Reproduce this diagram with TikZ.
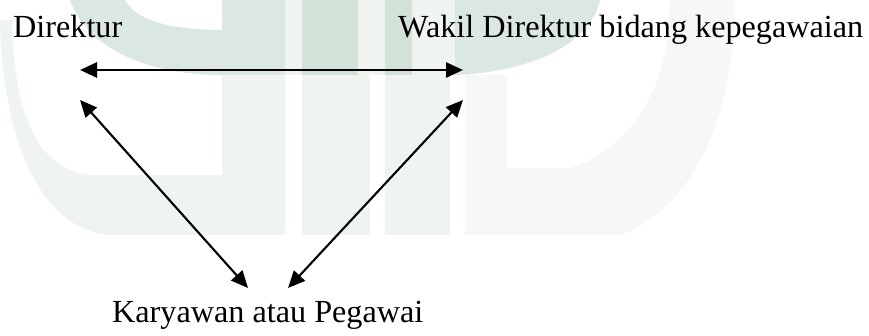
\documentclass[tikz,border=0pt]{standalone}
\usepackage{fontspec}
\setmainfont{Liberation Serif}
\usetikzlibrary{arrows.meta}

\definecolor{wmdark}{RGB}{210,226,217}
\definecolor{wmmid}{RGB}{219,232,225}
\definecolor{wmlight}{RGB}{239,244,241}
\definecolor{wmfaint}{RGB}{245,248,246}

\tikzset{
  lbl/.style={inner sep=0pt, anchor=base west, font=\fontsize{32.2}{38}\selectfont},
  link/.style={{Triangle[length=17pt,width=15pt]}-{Triangle[length=17pt,width=15pt]}, line width=2.1pt},
  thicklink/.style={link, line width=2.8pt},
}

\begin{document}
\begin{tikzpicture}[x=1pt, y=-1pt]
\useasboundingbox (0,0) rectangle (869,335);
\fill[white] (0,0) rectangle (869,335);

% --- faint logo in the background ---
% outer light ring on the left
\fill[wmlight] (0,20) .. controls (3,150) and (45,230) .. (110,235) -- (222,235)
  -- (222,175) -- (90,175) .. controls (40,170) and (14,120) .. (12,20) -- cycle;
% inner dark arc on the left
\fill[wmmid] (70,0) .. controls (88,50) and (150,75) .. (222,75)
  -- (222,30) .. controls (170,30) and (135,20) .. (125,0) -- cycle;
% vertical bars
\fill[wmlight] (222,75) rectangle (285,235);
\fill[wmlight] (302,75) rectangle (370,235);
\fill[wmlight] (385,75) rectangle (450,235);
\fill[wmfaint] (465,75) rectangle (507,235);
\fill[wmlight] (285,0) rectangle (302,75);
\fill[wmlight] (358,0) rectangle (385,75);
\fill[wmlight] (412,0) rectangle (455,75);
\fill[wmmid] (222,0) rectangle (285,75);
\fill[wmdark] (302,0) rectangle (358,75);
\fill[wmdark] (385,0) rectangle (412,75);
% dark arc on the right
\fill[wmmid] (455,0) -- (600,0) .. controls (590,45) and (530,72) .. (455,75) -- cycle;
% outer light ring on the right
\fill[wmfaint] (670,0) -- (735,0) .. controls (735,120) and (690,210) .. (620,235)
  -- (507,235) -- (507,168) -- (570,168) .. controls (630,150) and (670,90) .. (670,0) -- cycle;

% --- labels ---
\node[lbl] (dir) at (13,37) {Direktur};
\node[lbl] (wakil) at (398,37) {Wakil Direktur bidang kepegawaian};
\node[lbl] (kar) at (112,322) {Karyawan atau Pegawai};

% --- arrow ends ---
\coordinate (dirE) at (80,70);
\coordinate (wakilE) at (463,70);
\coordinate (dirS) at (80,100);
\coordinate (wakilS) at (463,100);
\coordinate (karL) at (248,288);
\coordinate (karR) at (288,288);

% --- connectors ---
\draw[thicklink] (dirE) -- (wakilE);
\draw[link] (dirS) -- (karL);
\draw[link] (wakilS) -- (karR);
\end{tikzpicture}
\end{document}
